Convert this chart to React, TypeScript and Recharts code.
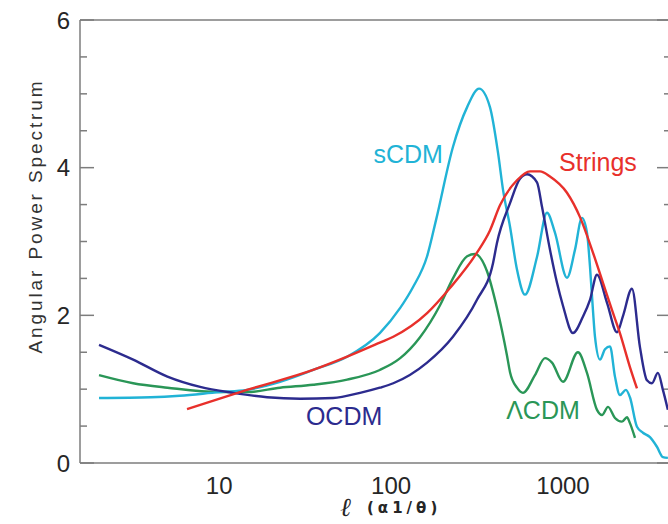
import { LineChart, Line, XAxis, YAxis, ReferenceDot, ReferenceLine, Label } from 'recharts'

const FONT = '"Liberation Sans", Arial, Helvetica, sans-serif'
const AXIS = '#7d7d7d'
const TEXT = '#262626'

const COLORS = {
  sCDM: '#21b3d6',
  strings: '#e8302b',
  oCDM: '#2c2b8e',
  lCDM: '#2a9657',
}

// multipole l  /  angular power
const sCDM_L = [2, 4, 5.9, 10, 14.5, 22.6, 35.2, 55.5, 86, 113, 134, 162, 183, 229, 277, 325, 376, 419, 448, 492, 540, 601, 706, 807, 898, 1055, 1175, 1289, 1379, 1436, 1494, 1535, 1641, 1755, 1877, 2006, 2144, 2324, 2452, 2694, 2918, 3206, 3520, 3814, 4077]
const sCDM_V = [0.88, 0.89, 0.91, 0.96, 0.99, 1.1, 1.26, 1.44, 1.76, 2.1, 2.38, 2.8, 3.3, 4.28, 4.82, 5.07, 4.82, 4.2, 3.7, 3.2, 2.62, 2.28, 2.79, 3.39, 3.12, 2.51, 2.89, 3.32, 3.12, 2.66, 2.07, 1.71, 1.4, 1.54, 1.58, 1.17, 0.92, 0.99, 0.89, 0.49, 0.41, 0.35, 0.22, 0.08, 0.07]

const oCDM_L = [2, 3.16, 5, 7.75, 12.1, 19, 29.6, 46, 66, 86, 103, 162, 229, 316, 392, 413, 492, 562, 618, 706, 755, 840, 923, 1000, 1143, 1306, 1436, 1577, 1804, 2062, 2233, 2519, 2804, 3079, 3291, 3567, 3814, 4077]
const oCDM_V = [1.6, 1.4, 1.17, 1.03, 0.95, 0.89, 0.87, 0.88, 0.95, 1.02, 1.08, 1.36, 1.71, 2.21, 2.71, 2.98, 3.52, 3.85, 3.91, 3.8, 3.47, 2.89, 2.44, 2.13, 1.76, 1.98, 2.21, 2.55, 2.17, 1.77, 1.99, 2.36, 1.57, 1.12, 1.08, 1.22, 0.99, 0.72]

const strings_L = [6.5, 14.5, 35.2, 55.5, 86, 103, 162, 220, 316, 376, 430, 540, 643, 735, 840, 1055, 1256, 1494, 1709, 1929, 2144, 2452, 2694]
const strings_V = [0.73, 0.99, 1.26, 1.44, 1.63, 1.71, 2.03, 2.37, 2.85, 3.15, 3.49, 3.83, 3.95, 3.95, 3.88, 3.66, 3.33, 2.85, 2.44, 2.07, 1.76, 1.3, 1.01]

const lCDM_L = [2, 3.16, 5, 10, 14.5, 22.6, 35.2, 55.5, 86, 113, 147, 193, 229, 277, 308, 361, 413, 472, 492, 540, 585, 687, 786, 863, 1000, 1222, 1379, 1577, 1687, 1828, 2006, 2203, 2357, 2452, 2624]
const lCDM_V = [1.19, 1.08, 1.02, 0.96, 0.96, 1.02, 1.06, 1.13, 1.26, 1.42, 1.7, 2.14, 2.5, 2.8, 2.83, 2.6, 2.1, 1.46, 1.23, 1.02, 0.95, 1.19, 1.42, 1.36, 1.1, 1.5, 1.22, 0.72, 0.65, 0.76, 0.61, 0.56, 0.62, 0.54, 0.34]

const X_TICKS = [2, 3, 4, 5, 6, 7, 8, 9, 10, 20, 30, 40, 50, 60, 70, 80, 90, 100, 200, 300, 400, 500, 600, 700, 800, 900, 1000, 2000, 3000, 4000]
const X_MAJOR = [10, 100, 1000]
const Y_TICKS = [0, 0.5, 1, 1.5, 2, 2.5, 3, 3.5, 4, 4.5, 5, 5.5, 6]
const Y_MAJOR = [0, 2, 4, 6]

const X_DOMAIN: [number, number] = [1.55, 4250]
const Y_DOMAIN: [number, number] = [0, 6]

// chart geometry
const CHART_W = 680
const CHART_H = 524
const MARGIN = { top: 19, right: 8, bottom: 31, left: 20 }
const X_AXIS_H = 30
const Y_AXIS_W = 60
const PLOT_W = CHART_W - MARGIN.left - MARGIN.right - Y_AXIS_W - 1
const PX_PER_DECADE = PLOT_W / Math.log10(X_DOMAIN[1] / X_DOMAIN[0])
const MAJOR_PX = 14
const MINOR_PX = 7
const TICK_W = 1.5

const zip = (ls: number[], vs: number[]) => ls.map((l, i) => ({ l, v: vs[i] }))

const sCDM = zip(sCDM_L, sCDM_V)
const oCDM = zip(oCDM_L, oCDM_V)
const strings = zip(strings_L, strings_V)
const lCDM = zip(lCDM_L, lCDM_V)

const bottomTick = (p: any) => {
  if (!X_MAJOR.includes(p.payload.value)) return <g />
  return (
    <text x={Number(p.x)} y={Number(p.y) + 31} textAnchor="middle" fontSize={24} fontFamily={FONT} fill={TEXT}>
      {p.payload.value}
    </text>
  )
}

const leftTick = (p: any) => {
  if (!Y_MAJOR.includes(p.payload.value)) return <g />
  return (
    <text x={Number(p.x) - 10} y={Number(p.y)} dy="0.36em" textAnchor="end" fontSize={24} fontFamily={FONT} fill={TEXT}>
      {p.payload.value}
    </text>
  )
}

const XTitle = ({ viewBox }: any) => (
  <g>
    <text x={viewBox.x + 266} y={viewBox.y + 53} textAnchor="middle" fontSize={26} fontWeight="bold" fontStyle="italic" fontFamily='"DejaVu Serif", serif' fill={TEXT}>
      ℓ
    </text>
    <text x={viewBox.x + 287} y={viewBox.y + 50} fontSize={15} fontWeight="bold" letterSpacing={4} fontFamily='"DejaVu Sans", sans-serif' fill={TEXT}>
      (α1/θ)
    </text>
  </g>
)

const YTitle = ({ viewBox }: any) => {
  const cx = viewBox.x + 15
  const cy = viewBox.y + 196
  return (
    <text x={cx} y={cy} transform={`rotate(-90, ${cx}, ${cy})`} textAnchor="middle" dy="0.35em" fontSize={19} letterSpacing={2.9} fontFamily={FONT} fill="#333">
      Angular Power Spectrum
    </text>
  )
}

const curveLabels = [
  { l: 125.6, v: 4.19, text: 'sCDM', color: COLORS.sCDM },
  { l: 1598, v: 4.07, text: 'Strings', color: COLORS.strings },
  { l: 53.3, v: 0.64, text: 'OCDM', color: COLORS.oCDM },
  { l: 765, v: 0.72, text: 'ΛCDM', color: COLORS.lCDM },
]

// y ticks (horizontal marks) as reference segments on both sides
const yTickSegments = () =>
  Y_TICKS.flatMap(t => {
    const f = Math.pow(10, (Y_MAJOR.includes(t) ? MAJOR_PX : MINOR_PX) / PX_PER_DECADE)
    return [
      { key: `yl${t}`, seg: [{ x: X_DOMAIN[0], y: t }, { x: X_DOMAIN[0] * f, y: t }] },
      { key: `yr${t}`, seg: [{ x: X_DOMAIN[1], y: t }, { x: X_DOMAIN[1] / f, y: t }] },
    ]
  })

const axisCommon = {
  tickLine: false,
  tickSize: 0,
  tickMargin: 0,
  interval: 0 as const,
  axisLine: { stroke: AXIS, strokeWidth: 1.5 },
}

// mirrored x axes that only draw inward tick marks (minor set, then majors longer)
const tickAxes = [
  { id: 'bm', orientation: 'bottom' as const, ticks: X_TICKS, size: MINOR_PX },
  { id: 'bM', orientation: 'bottom' as const, ticks: X_MAJOR, size: MAJOR_PX },
  { id: 'tm', orientation: 'top' as const, ticks: X_TICKS, size: MINOR_PX },
  { id: 'tM', orientation: 'top' as const, ticks: X_MAJOR, size: MAJOR_PX },
]

export default function App() {
  return (
    <div style={{ width: 668, height: 524, overflow: 'hidden', background: '#fff' }}>
      <style>{'body{margin:0;overflow:hidden}'}</style>
      <LineChart width={CHART_W} height={CHART_H} margin={MARGIN}>
        <XAxis
          xAxisId="b"
          dataKey="l"
          type="number"
          scale="log"
          domain={X_DOMAIN}
          allowDataOverflow
          ticks={X_TICKS}
          height={X_AXIS_H}
          {...axisCommon}
          tick={bottomTick}
        >
          <Label content={<XTitle />} />
        </XAxis>
        <XAxis
          xAxisId="t"
          orientation="top"
          dataKey="l"
          type="number"
          scale="log"
          domain={X_DOMAIN}
          allowDataOverflow
          ticks={X_TICKS}
          height={1}
          {...axisCommon}
          tick={false}
        />
        {tickAxes.map(a => (
          <XAxis
            key={a.id}
            xAxisId={a.id}
            orientation={a.orientation}
            mirror
            dataKey="l"
            type="number"
            scale="log"
            domain={X_DOMAIN}
            allowDataOverflow
            ticks={a.ticks}
            interval={0}
            height={1}
            axisLine={false}
            tick={false}
            tickSize={a.size}
            tickMargin={0}
            tickLine={{ stroke: AXIS, strokeWidth: TICK_W }}
          />
        ))}
        <YAxis yAxisId="l" type="number" domain={Y_DOMAIN} ticks={Y_TICKS} width={Y_AXIS_W} {...axisCommon} tick={leftTick}>
          <Label content={<YTitle />} />
        </YAxis>
        <YAxis yAxisId="r" orientation="right" type="number" domain={Y_DOMAIN} ticks={Y_TICKS} width={1} {...axisCommon} tick={false} />
        {yTickSegments().map(s => (
          <ReferenceLine key={s.key} xAxisId="b" yAxisId="l" segment={s.seg} stroke={AXIS} strokeWidth={TICK_W} ifOverflow="visible" />
        ))}
        <Line xAxisId="b" yAxisId="l" data={lCDM} dataKey="v" type="monotone" stroke={COLORS.lCDM} strokeWidth={2.4} dot={false} isAnimationActive={false} />
        <Line xAxisId="b" yAxisId="l" data={sCDM} dataKey="v" type="monotone" stroke={COLORS.sCDM} strokeWidth={2.4} dot={false} isAnimationActive={false} />
        <Line xAxisId="b" yAxisId="l" data={oCDM} dataKey="v" type="monotone" stroke={COLORS.oCDM} strokeWidth={2.4} dot={false} isAnimationActive={false} />
        <Line xAxisId="b" yAxisId="l" data={strings} dataKey="v" type="monotone" stroke={COLORS.strings} strokeWidth={2.4} dot={false} isAnimationActive={false} />
        {curveLabels.map(c => (
          <ReferenceDot
            key={c.text}
            xAxisId="b"
            yAxisId="l"
            x={c.l}
            y={c.v}
            r={0}
            fill="none"
            stroke="none"
            label={{ value: c.text, position: 'center', fill: c.color, fontSize: 25, fontFamily: FONT }}
          />
        ))}
      </LineChart>
    </div>
  )
}
